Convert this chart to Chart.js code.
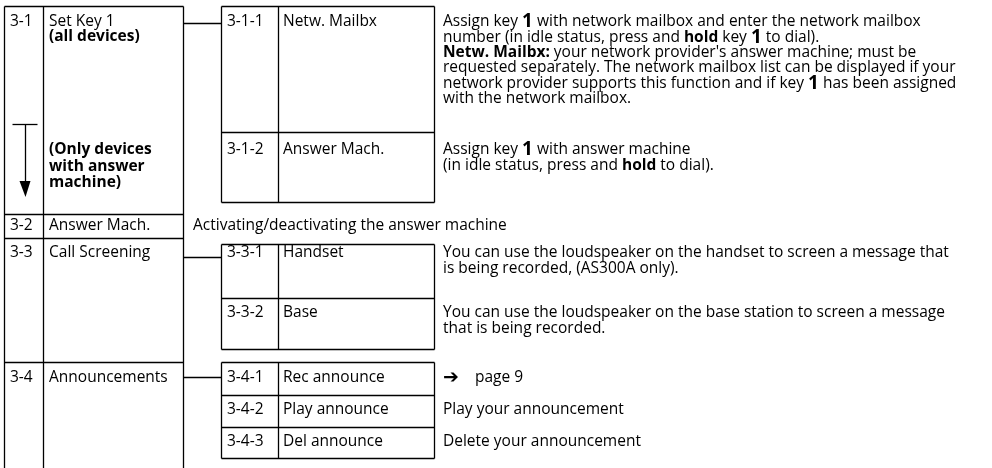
<!DOCTYPE html>
<html>
<head>
<meta charset="utf-8">
<script src="https://cdn.jsdelivr.net/npm/chart.js@4.4.1/dist/chart.umd.min.js"></script>
<style>
  html, body { margin: 0; padding: 0; background: #fff; }
  #chart { display: block; }
</style>
</head>
<body>
<canvas id="chart" width="992" height="468"></canvas>
<script>
// menu data (*bold*, ^big bold^, ~symbol~)
const menuCodes = ["3-1", "3-2", "3-3", "3-4"]
const menuNames = [["Set Key 1", "*(all devices)*"], ["Answer Mach."], ["Call Screening"], ["Announcements"]]
const menuNotes = [["*(Only devices*", "*with answer*", "*machine)*"], [], [], []]
const rowTexts = ["", "Activating/deactivating the answer machine", "", ""]

const subCodes = [["3-1-1", "3-1-2"], [], ["3-3-1", "3-3-2"], ["3-4-1", "3-4-2", "3-4-3"]]
const subNames = [["Netw. Mailbx", "Answer Mach."], [], ["Handset", "Base"], ["Rec announce", "Play announce", "Del announce"]]
const subDescs = [
    [
        ["Assign key ^1^ with network mailbox and enter the network mailbox",
         "number (in idle status, press and *hold* key ^1^ to dial).",
         "*Netw. Mailbx:* your network provider's answer machine; must be",
         "requested separately. The network mailbox list can be displayed if your",
         "network provider supports this function and if key ^1^ has been assigned",
         "with the network mailbox."],
        ["Assign key ^1^ with answer machine",
         "(in idle status, press and *hold* to dial)."]
    ],
    [],
    [
        ["You can use the loudspeaker on the handset to screen a message that",
         "is being recorded, (AS300A only)."],
        ["You can use the loudspeaker on the base station to screen a message",
         "that is being recorded."]
    ],
    [
        ["~\u2794~    page 9"],
        ["Play your announcement"],
        ["Delete your announcement"]
    ]
]

// layout (page units = pixels of the 992x468 sheet)
const colX = { left: 4, code: 43, right: 183, subLeft: 221, subCode: 278, subRight: 434, desc: 443 }
const menuEdges = [6, 214, 238, 362, 468]
const menuTextY = [22, 226, 253, 378]
const noteY = 150
const subEdges = [[6, 132, 202], null, [244, 298, 349], [362, 395, 427, 458]]
const subTextY = [[22, 150], null, [253, 313], [378, 410, 442]]
const linkY = [23, null, 257, 377]
const arrow = { x: 25, bar: 124, x0: 12, x1: 37, head: 181, tip: 197 }

const family = "'Open Sans', sans-serif"
const fonts = {
    n: "15.5px " + family,
    b: "bold 15.5px " + family,
    big: "bold 19px " + family,
    sym: "bold 19px 'DejaVu Sans', sans-serif"
}

function richText(ctx, str, x, y) {
    const parts = str.split(/(\*[^*]+\*|\^[^^]+\^|~[^~]+~)/).filter(p => p)
    let cx = x
    parts.forEach(p => {
        let font = fonts.n
        if (p[0] == "*") { font = fonts.b; p = p.slice(1, -1) }
        else if (p[0] == "^") { font = fonts.big; p = p.slice(1, -1) }
        else if (p[0] == "~") { font = fonts.sym; p = p.slice(1, -1) }
        ctx.font = font
        ctx.fillText(p, cx, y)
        cx += ctx.measureText(p).width
    })
}

const tablePlugin = {
    id: "menuTable",
    afterDraw(chart) {
        const ctx = chart.ctx
        const sx = v => chart.scales.x.getPixelForValue(v)
        const sy = v => chart.scales.y.getPixelForValue(v)
        const line = (x0, y0, x1, y1) => {
            ctx.beginPath()
            ctx.moveTo(Math.round(sx(x0)) + 0.5, Math.round(sy(y0)) + 0.5)
            ctx.lineTo(Math.round(sx(x1)) + 0.5, Math.round(sy(y1)) + 0.5)
            ctx.stroke()
        }

        ctx.save()
        ctx.strokeStyle = "#000"
        ctx.fillStyle = "#000"
        ctx.lineWidth = 1.3
        ctx.textBaseline = "middle"

        // level 1 column
        const top = menuEdges[0], bottom = menuEdges[menuEdges.length - 1]
        line(colX.left, top, colX.left, bottom)
        line(colX.code, top, colX.code, bottom)
        line(colX.right, top, colX.right, bottom)
        menuEdges.slice(0, -1).forEach(e => line(colX.left, e, colX.right, e))

        menuCodes.forEach((code, i) => {
            const y = menuTextY[i]
            richText(ctx, code, colX.left + 6, sy(y))
            menuNames[i].forEach((t, k) => richText(ctx, t, colX.code + 6, sy(y + k * 15)))
            menuNotes[i].forEach((t, k) => richText(ctx, t, colX.code + 6, sy(noteY + k * 16.5)))
            if (rowTexts[i]) richText(ctx, rowTexts[i], colX.right + 10, sy(y))

            const edges = subEdges[i]
            if (!edges) return
            line(colX.right, linkY[i], colX.subLeft, linkY[i])

            // sub box
            line(colX.subLeft, edges[0], colX.subLeft, edges[edges.length - 1])
            line(colX.subCode, edges[0], colX.subCode, edges[edges.length - 1])
            line(colX.subRight, edges[0], colX.subRight, edges[edges.length - 1])
            edges.forEach(e => line(colX.subLeft, e, colX.subRight, e))

            subCodes[i].forEach((sc, j) => {
                const ty = subTextY[i][j]
                richText(ctx, sc, colX.subLeft + 6, sy(ty))
                richText(ctx, subNames[i][j], colX.subCode + 5, sy(ty))
                subDescs[i][j].forEach((t, k) => richText(ctx, t, colX.desc, sy(ty + k * 15.3)))
            })
        })

        // arrow for "only devices with answer machine"
        line(arrow.x0, arrow.bar, arrow.x1, arrow.bar)
        line(arrow.x, arrow.bar, arrow.x, arrow.head)
        ctx.beginPath()
        ctx.moveTo(sx(arrow.x - 5.5), sy(arrow.head))
        ctx.lineTo(sx(arrow.x + 5.5), sy(arrow.head))
        ctx.lineTo(sx(arrow.x) + 0.5, sy(arrow.tip))
        ctx.closePath()
        ctx.fill()

        ctx.restore()
    }
}

const ctx = document.getElementById("chart").getContext("2d")

new Chart(ctx, {
    type: "scatter",
    data: {
        datasets: [{
            label: "Menu",
            data: menuCodes.map((c, i) => ({ x: colX.left, y: menuTextY[i] })),
            pointRadius: 0
        }]
    },
    options: {
        responsive: false,
        animation: false,
        events: [],
        layout: { padding: 0 },
        plugins: {
            legend: { display: false },
            tooltip: { enabled: false }
        },
        scales: {
            x: { type: "linear", min: 0, max: 992, display: false },
            y: { type: "linear", min: 0, max: 468, reverse: true, display: false }
        }
    },
    plugins: [tablePlugin]
});
</script>
</body>
</html>
